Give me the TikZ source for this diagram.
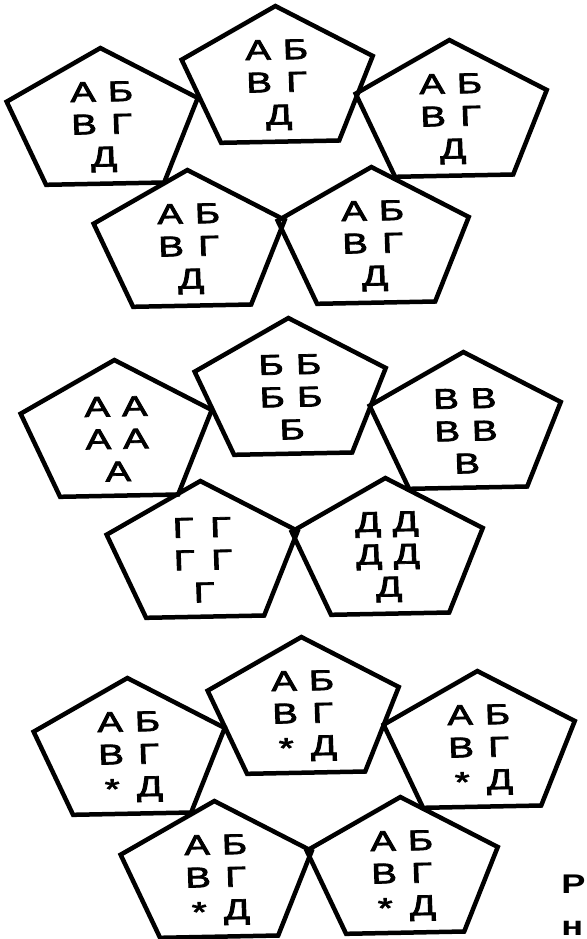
\documentclass[tikz,border=0pt]{standalone}
\usepackage{fontspec}
\setmainfont{Liberation Sans}
\newfontfamily\pentfont[FakeBold=2.5]{Liberation Sans}
\usetikzlibrary{shapes.geometric}

\newcommand{\cell}[1]{\makebox[28pt]{#1}}
\newcommand{\lowast}{\raisebox{-2pt}{*}}

\begin{document}
\begin{tikzpicture}[x=1pt, y=-1pt,
  pent/.style={regular polygon, regular polygon sides=5, draw, line width=4.5pt, minimum size=150pt, inner sep=0pt,
    xscale=1.34, rotate=1.5},
  letters/.style={inner sep=0pt, yshift=-4pt, xscale=1.34, rotate=1.5, align=center, font=\pentfont\fontsize{28.5}{32.5}\selectfont},
  cut/.style={inner sep=0pt, xscale=1.34, font=\bfseries\fontsize{27}{32}\selectfont}
]
  \useasboundingbox (0,0) rectangle (586,939);

  % first set
  \node[pent] (s1a) at (103,123) {};
  \node[pent] (s1b) at (278,81) {};
  \node[pent] (s1c) at (452,115) {};
  \node[pent] (s1d) at (190,245) {};
  \node[pent] (s1e) at (374,242) {};
  \node[letters] (t1a) at (s1a) {\cell{А}\cell{Б}\\\cell{В}\cell{Г}\\Д};
  \node[letters] (t1b) at (s1b) {\cell{А}\cell{Б}\\\cell{В}\cell{Г}\\Д};
  \node[letters] (t1c) at (s1c) {\cell{А}\cell{Б}\\\cell{В}\cell{Г}\\Д};
  \node[letters] (t1d) at (s1d) {\cell{А}\cell{Б}\\\cell{В}\cell{Г}\\Д};
  \node[letters] (t1e) at (s1e) {\cell{А}\cell{Б}\\\cell{В}\cell{Г}\\Д};

  % second set
  \node[pent] (s2a) at (117,435) {};
  \node[pent] (s2b) at (291,393) {};
  \node[pent] (s2c) at (466,427) {};
  \node[pent] (s2d) at (203,556) {};
  \node[pent] (s2e) at (388,553) {};
  \node[letters] (t2a) at (s2a) {\cell{А}\cell{А}\\\cell{А}\cell{А}\\А};
  \node[letters] (t2b) at (s2b) {\cell{Б}\cell{Б}\\\cell{Б}\cell{Б}\\Б};
  \node[letters] (t2c) at (s2c) {\cell{В}\cell{В}\\\cell{В}\cell{В}\\В};
  \node[letters] (t2d) at (s2d) {\cell{Г}\cell{Г}\\\cell{Г}\cell{Г}\\Г};
  \node[letters] (t2e) at (s2e) {\cell{Д}\cell{Д}\\\cell{Д}\cell{Д}\\Д};

  % third set
  \node[pent] (s3a) at (130,753) {};
  \node[pent] (s3b) at (304,712) {};
  \node[pent] (s3c) at (480,746) {};
  \node[pent] (s3d) at (217,876) {};
  \node[pent] (s3e) at (403,872) {};
  \node[letters] (t3a) at (s3a) {\cell{А}\cell{Б}\\\cell{В}\cell{Г}\\\cell{\lowast}\cell{Д}};
  \node[letters] (t3b) at (s3b) {\cell{А}\cell{Б}\\\cell{В}\cell{Г}\\\cell{\lowast}\cell{Д}};
  \node[letters] (t3c) at (s3c) {\cell{А}\cell{Б}\\\cell{В}\cell{Г}\\\cell{\lowast}\cell{Д}};
  \node[letters] (t3d) at (s3d) {\cell{А}\cell{Б}\\\cell{В}\cell{Г}\\\cell{\lowast}\cell{Д}};
  \node[letters] (t3e) at (s3e) {\cell{А}\cell{Б}\\\cell{В}\cell{Г}\\\cell{\lowast}\cell{Д}};

  % caption remains at the margin
  \node[cut, anchor=base west] (capr) at (561,893) {Р};
  \node[cut, anchor=base west] (capn) at (561,935) {н};
\end{tikzpicture}
\end{document}
